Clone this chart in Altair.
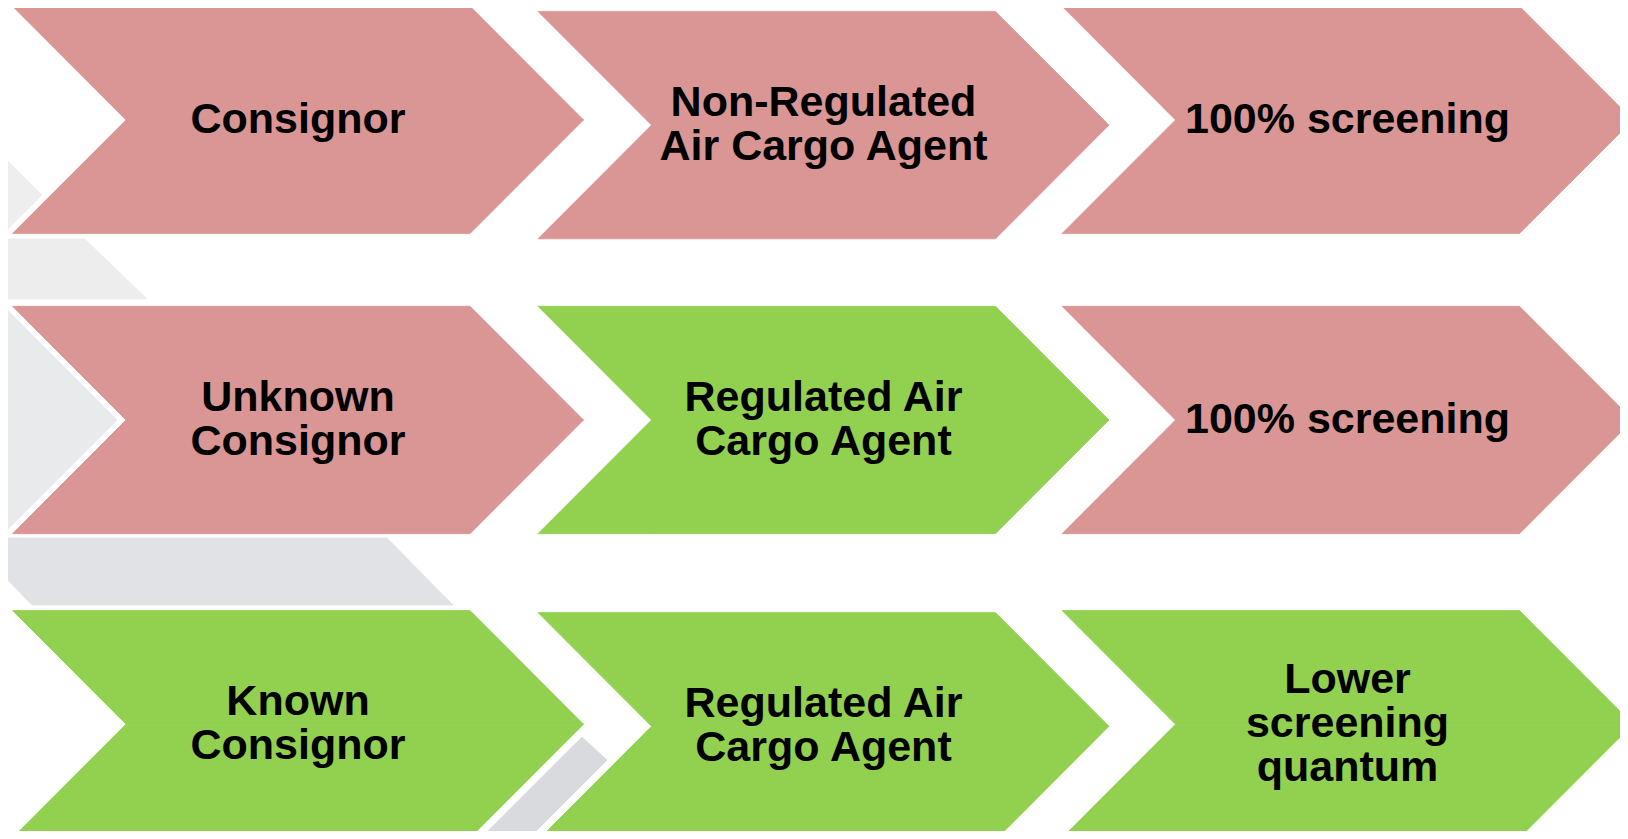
import altair as alt
import pandas as pd

# ---- content -------------------------------------------------------------
labels = [
    "Consignor", "Non-Regulated\nAir Cargo Agent", "100% screening",
    "Unknown\nConsignor", "Regulated Air\nCargo Agent", "100% screening",
    "Known\nConsignor", "Regulated Air\nCargo Agent", "Lower\nscreening\nquantum",
]
status = [
    "unsecured", "unsecured", "unsecured",
    "unsecured", "secured", "unsecured",
    "secured", "secured", "secured",
]
rows = [0, 0, 0, 1, 1, 1, 2, 2, 2]
cols = [0, 1, 2, 0, 1, 2, 0, 1, 2]

# ---- layout / style -------------------------------------------------------
status_fill = {"unsecured": "#D99694", "secured": "#92D050"}
col_left = [12.5, 538.0, 1062.0]
chev_top = [6.2, 11.4, 6.2, 306.3, 306.3, 306.3, 610.5, 612.6, 610.5]
BODY = 457.5   # left edge to start of point
DEPTH = 113.5  # depth of notch / point
HEIGHT = 227.4
LINE_H = 44

# decorative grey shapes behind the chevrons: (x, y_top, y_bottom) profiles
gray_profiles = [
    [(0, 153, 237), (42, 195, 195)],
    [(0, 239, 299), (85, 239, 299), (147, 299, 299)],
    [(0, 306, 533.7), (3.5, 306, 533.7), (116.6, 419.3, 420.8)],
    [(0, 538, 572), (32, 538, 605), (387, 538, 605), (453, 605, 605)],
    [(480, 839, 839), (528, 791, 839), (582, 737, 785), (607, 760, 760)],
]
gray_fills = ["#EEEEEE", "#EDEDED", "#E9EAEB", "#E1E2E5", "#D9DADD"]

# ---- build tables ---------------------------------------------------------
shape_rows = []
for gi, (prof, gf) in enumerate(zip(gray_profiles, gray_fills)):
    for (x, ya, yb) in prof:
        shape_rows.append({"id": f"g{gi}", "x": x, "y": ya, "y2": yb, "fill": gf})

text_rows = []
for i in range(len(labels)):
    left = col_left[cols[i]]
    top = chev_top[i]
    mid = top + HEIGHT / 2
    bot = top + HEIGHT
    f = status_fill[status[i]]
    xs_ = [left, left + DEPTH, left + BODY, left + BODY + DEPTH]
    upper = [(top, top), (top, mid), (top, mid), (mid, mid)]
    lower = [(bot, bot), (mid, bot), (mid, bot), (mid, mid)]
    for half, prof in (("u", upper), ("l", lower)):
        for x, (ya, yb) in zip(xs_, prof):
            shape_rows.append({"id": f"c{i}{half}", "x": x, "y": ya, "y2": yb, "fill": f})
    n_lines = labels[i].count("\n") + 1
    text_rows.append({
        "label": labels[i],
        "x": left + DEPTH / 2 + BODY / 2,
        "y": mid - (n_lines - 1) * LINE_H / 2,
    })

shapes = pd.DataFrame(shape_rows)
texts = pd.DataFrame(text_rows)

W, H = 1612, 823
xs = alt.Scale(domain=[8, 8 + W], nice=False, zero=False)
ys = alt.Scale(domain=[8, 8 + H], nice=False, zero=False, reverse=True)

areas = alt.Chart(shapes).mark_area(clip=True, interpolate="linear", strokeWidth=0.8, opacity=1).encode(
    x=alt.X("x:Q", scale=xs, axis=None),
    y=alt.Y("y:Q", scale=ys, axis=None, stack=None),
    y2=alt.Y2("y2"),
    detail="id:N",
    fill=alt.Fill("fill:N", scale=None),
    stroke=alt.Stroke("fill:N", scale=None),
)

text = alt.Chart(texts).mark_text(
    font="Liberation Sans, Arial",
    fontSize=43, fontWeight="bold", lineBreak="\n", align="center",
    baseline="middle", lineHeight=LINE_H, color="black",
).encode(
    x=alt.X("x:Q", scale=xs, axis=None),
    y=alt.Y("y:Q", scale=ys, axis=None),
    text="label:N",
)

chart = alt.layer(areas, text).properties(
    width=W, height=H, padding=0,
    autosize=alt.AutoSizeParams(type="none"),
    background="white",
).configure_view(stroke=None)

chart.save("out.html", embed_options={"renderer": "svg", "actions": False})
